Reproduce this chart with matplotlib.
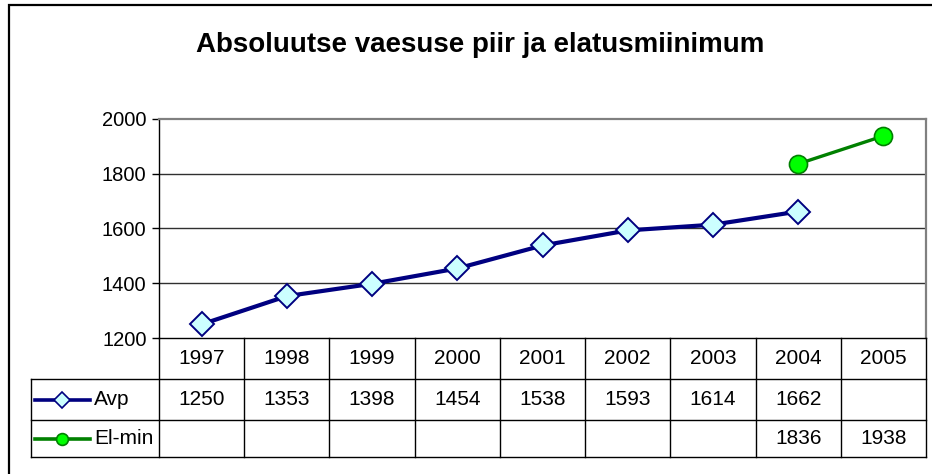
import numpy as np
import matplotlib.pyplot as plt
from matplotlib.patches import Rectangle

plt.rcParams['font.family'] = ['Liberation Sans', 'DejaVu Sans']

# data
years = ['1997', '1998', '1999', '2000', '2001', '2002', '2003', '2004', '2005']
avp = [1250, 1353, 1398, 1454, 1538, 1593, 1614, 1662, None]
elmin = [None, None, None, None, None, None, None, 1836, 1938]
title = 'Absoluutse vaesuse piir ja elatusmiinimum'

W, H = 932, 474
fig = plt.figure(figsize=(W / 100, H / 100), dpi=100)

def box(l, t, r, b):
    return [l / W, 1 - b / H, (r - l) / W, (b - t) / H]

# outer frame
fig.patches.append(Rectangle((9 / W, -0.1), 1.2, 1 - 5 / H + 0.1, transform=fig.transFigure,
                             fill=False, edgecolor='black', linewidth=1.6))

fig.text(480 / W, 1 - 45 / H, title, ha='center', va='center', fontsize=20, fontweight='bold')

x = np.arange(len(years))
navy = '#000080'
green = '#008000'

ax = fig.add_axes(box(159, 119, 926, 338))
ya = np.array([np.nan if v is None else v for v in avp], dtype=float)
ye = np.array([np.nan if v is None else v for v in elmin], dtype=float)
ax.plot(x, ya, color=navy, lw=3, marker='D', ms=12, mfc='#CCFFFF', mec=navy, mew=1.4, clip_on=False, zorder=3)
ax.plot(x, ye, color=green, lw=2.4, marker='o', ms=13, mfc='#00FF00', mec=green, mew=1.2, clip_on=False, zorder=3)
ax.set_xlim(-0.5, len(years) - 0.5)
ax.set_ylim(1200, 2000)
ax.set_yticks([1200, 1400, 1600, 1800, 2000])
ax.tick_params(axis='y', labelsize=14.5, length=5, width=1, direction='out', pad=4)
ax.set_xticks([])
for v in [1400, 1600, 1800]:
    ax.axhline(v, color='#303030', lw=1, zorder=1)
ax.spines['top'].set_color('#808080')
ax.spines['right'].set_color('#808080')
ax.spines['top'].set_linewidth(1.6)
ax.spines['right'].set_linewidth(1.6)
ax.spines['left'].set_linewidth(1)
ax.spines['bottom'].set_visible(False)

# data table under the chart
n = len(years)
u = n / (926 - 159)          # one pixel in category units
leg_w = 128 * u
tb = fig.add_axes(box(31, 338, 926, 458))
tb.set_xlim(-0.5 - leg_w, n - 0.5)
tb.set_ylim(458, 338)
tb.axis('off')
rows = [338, 379, 420, 457]
lc = 'black'
lw = 1
tb.plot([-0.5, n - 0.5], [rows[0]] * 2, color=lc, lw=lw, clip_on=False)
for r in rows[1:]:
    tb.plot([-0.5 - leg_w, n - 0.5], [r] * 2, color=lc, lw=lw, clip_on=False)
for i in range(n + 1):
    tb.plot([i - 0.5] * 2, [rows[0], rows[3]], color=lc, lw=lw, clip_on=False)
tb.plot([-0.5 - leg_w] * 2, [rows[1], rows[3]], color=lc, lw=lw, clip_on=False)

fs = 15
for i, yr in enumerate(years):
    tb.text(i, (rows[0] + rows[1]) / 2, yr, ha='center', va='center', fontsize=fs)
    if avp[i] is not None:
        tb.text(i, (rows[1] + rows[2]) / 2, str(avp[i]), ha='center', va='center', fontsize=fs)
    if elmin[i] is not None:
        tb.text(i, (rows[2] + rows[3]) / 2, str(elmin[i]), ha='center', va='center', fontsize=fs)

# legend keys in the table
x0 = -0.5 - leg_w
for r0, r1, name, col, mk, mfc, ms in [(rows[1], rows[2], 'Avp', navy, 'D', '#CCFFFF', 8),
                                       (rows[2], rows[3], 'El-min', green, 'o', '#00FF00', 8.5)]:
    yc = (r0 + r1) / 2
    tb.plot([x0 + 4 * u, x0 + 59 * u], [yc, yc], color=col, lw=2.6)
    tb.plot([x0 + 31 * u], [yc], marker=mk, ms=ms, mfc=mfc, mec=col, mew=1.2)
    tb.text(x0 + 63 * u, yc, name, ha='left', va='center', fontsize=fs)

fig.savefig('out.png', dpi=100)
